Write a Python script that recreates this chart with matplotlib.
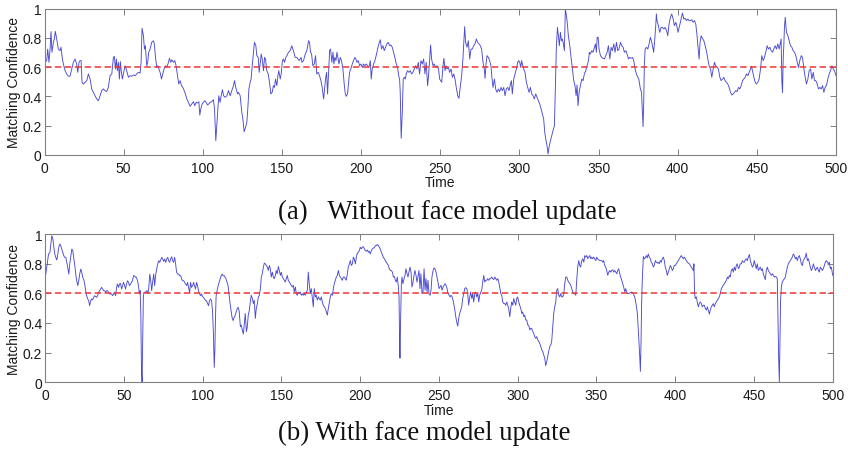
import matplotlib
matplotlib.use('Agg')
import matplotlib.pyplot as plt
from matplotlib.ticker import FuncFormatter

# (time, matching confidence) samples, panel (a)
samples_a = [
(0,.633),(1.4,.645),(2.0,.724),(2.8,.633),(3.5,.724),(4.1,.843),(4.7,.702),(5.6,.770),(6.2,.793),(6.8,.845),(7.7,.793),(8.7,.724),(9.8,.713),(10.4,.736),(11.3,.656),(11.9,.622),(13.0,.576),(14.0,.554),(15.1,.538),(16.1,.538),(17.2,.588),(18.2,.633),(19.3,.656),(20.3,.622),(21.0,.565),(21.8,.633),(22.4,.645),(23.1,.645),(23.7,.497),(24.5,.485),(25.6,.497),(26.7,.508),(27.7,.554),(28.8,.519),(29.8,.451),(30.9,.428),(31.9,.405),(33.0,.383),(34.0,.371),(35.1,.405),(36.1,.440),(37.2,.451),(38.2,.440),(39.3,.433),(40.3,.462),(41.4,.542),(42.5,.554),(43.5,.667),(44.1,.674),(44.8,.588),(45.4,.656),(46.0,.576),(46.7,.633),(47.3,.519),(47.9,.638),(48.6,.565),(49.2,.519),(49.8,.554),(50.9,.610),(51.9,.576),(53.0,.531),(54.0,.542),(55.1,.538),(56.2,.547),(57.2,.542),(58.3,.554),(59.3,.565),(60.4,.560),(61.0,.633),(61.6,.866),(62.5,.815),(63.1,.724),(63.7,.747),(64.6,.610),(65.2,.633),(65.8,.702),(66.7,.724),(67.7,.770),(68.8,.781),(69.4,.759),(70.1,.667),(70.9,.599),(71.5,.610),(72.2,.588),(73.0,.565),(73.9,.519),(74.7,.554),(75.5,.588),(76.4,.610),(77.2,.599),(78.3,.633),(78.9,.661),(79.8,.633),(80.4,.651),(81.5,.633),(82.3,.645),(83.1,.610),(84.0,.542),(84.8,.485),(85.7,.508),(86.5,.474),(87.4,.462),(88.2,.440),(89.0,.417),(89.9,.383),(90.9,.360),(92.0,.333),(93.0,.349),(94.1,.364),(94.9,.337),(95.8,.360),(96.6,.355),(97.5,.364),(98.1,.273),(98.7,.314),(99.6,.349),(100.4,.360),(101.3,.371),(102.1,.360),(102.9,.342),(103.8,.349),(104.6,.360),(105.7,.364),(106.7,.378),(107.4,.314),(107.8,.200),(108.2,.098),(108.8,.200),(109.5,.314),(110.1,.405),(110.9,.360),(111.6,.405),(112.4,.446),(113.1,.405),(114.1,.394),(115.2,.405),(116.2,.440),(117.3,.405),(118.3,.440),(119.4,.474),(120.0,.508),(120.8,.462),(121.9,.417),(122.5,.428),(123.6,.405),
(124.6,.292),(125.3,.246),(126.1,.159),(127.0,.189),(127.8,.223),(128.4,.314),(129.1,.451),(129.9,.497),(130.5,.519),(131.2,.610),(132.0,.702),(132.6,.770),(133.5,.747),(134.1,.679),(135.0,.667),(135.6,.565),(136.2,.622),(136.9,.690),(137.5,.656),(138.3,.576),(139.0,.667),(139.6,.656),(140.4,.576),(141.3,.554),(142.1,.497),(143.0,.417),(143.8,.428),(144.6,.474),(145.3,.462),(145.9,.519),(146.8,.474),(147.4,.542),(148.0,.576),(148.9,.519),(149.5,.554),(150.3,.645),(151.0,.656),(151.6,.633),(152.4,.667),(153.1,.679),(154.1,.702),(155.2,.713),(156.2,.747),(156.9,.724),(157.5,.702),(158.3,.667),(159.4,.667),(160.0,.656),(160.9,.645),(161.5,.656),(162.1,.667),(162.6,.633),(163.6,.645),(164.7,.690),(165.7,.713),(166.8,.781),(167.4,.770),(168.0,.702),(168.7,.690),(169.5,.610),(170.4,.622),(171.2,.679),(172.0,.554),(172.9,.565),(173.7,.542),(174.6,.508),(175.4,.462),(176.3,.383),(176.9,.451),(177.5,.519),(178.2,.565),(178.8,.417),(179.4,.554),(180.1,.713),(180.7,.724),(181.5,.633),(182.2,.702),(182.8,.622),(183.4,.667),(184.1,.645),(184.7,.702),(185.3,.667),(186.0,.622),(186.8,.667),(187.6,.645),(188.5,.588),(189.3,.485),(190.0,.417),(190.6,.401),(191.4,.417),(192.1,.497),(192.7,.565),(193.5,.588),(194.4,.622),(195.2,.645),(196.1,.667),(196.7,.656),(197.3,.633),(198.2,.645),(199.0,.610),(199.9,.622),(200.7,.599),(201.5,.622),(202.4,.610),(203.2,.622),(204.1,.610),(204.9,.599),(205.8,.645),(206.4,.519),(207.0,.588),(207.9,.622),(208.7,.645),(209.5,.679),(210.4,.724),(211.2,.759),(212.1,.788),(212.9,.724),(213.8,.747),(214.6,.713),(215.4,.736),(216.3,.759),(217.1,.770),(218.0,.747),(218.8,.752),(219.7,.736),(220.5,.702),(221.3,.667),(222.2,.622),(223.0,.599),(223.7,.542),(224.3,.519),(224.7,.428),(225.1,.200),(225.3,.114),(226.0,.292),(226.6,.519),(227.3,.531),(227.9,.519),(228.5,.554),(229.3,.576),(230.2,.565),(231.0,.576),(231.9,.554),(232.7,.565),(233.6,.588),(234.4,.610),(235.3,.588),(236.1,.633),(236.9,.554),(237.8,.645),(238.6,.622),(239.5,.656),(240.3,.554),(241.1,.633),(242.0,.474),(242.6,.542),(243.3,.656),(243.9,.752),(244.5,.656),(245.4,.610),(246.2,.622),(247.0,.599),(247.9,.610),(248.9,.588),(249.6,.519),
(250.9,.497),(251.7,.610),(252.3,.661),(253.0,.576),(253.6,.610),(254.2,.588),(255.1,.599),(255.9,.565),(256.8,.588),(257.6,.531),(258.5,.554),(259.3,.519),(260.1,.462),(261.0,.405),(261.8,.387),(262.7,.474),(263.5,.542),(264.3,.656),(265.0,.793),(265.4,.877),(266.0,.770),(266.9,.736),(267.7,.781),(268.6,.656),(269.4,.724),(270.2,.724),(271.1,.747),(271.9,.759),(272.8,.793),(273.6,.770),(274.5,.759),(275.3,.747),(276.1,.724),(277.0,.633),(277.8,.588),(278.3,.524),(278.9,.622),(279.5,.679),(280.4,.667),(281.2,.645),(282.0,.610),(282.7,.519),(283.3,.462),(284.2,.519),(285.0,.451),(285.8,.428),(286.7,.451),(287.5,.433),(288.4,.462),(289.2,.440),(290.1,.462),(290.9,.405),(291.7,.451),(292.6,.462),(293.4,.440),(294.3,.485),(294.9,.508),(295.5,.417),(296.4,.519),(297.2,.554),(298.1,.588),(298.9,.633),(299.5,.645),(300.2,.633),(300.8,.599),(301.4,.645),(302.1,.610),(302.7,.588),(303.5,.565),(304.4,.497),(305.2,.462),(306.1,.428),(306.9,.462),(307.8,.417),(308.6,.405),(309.4,.383),(310.3,.417),(311.1,.394),(312.0,.371),(312.8,.349),(313.7,.314),(314.5,.280),(315.3,.246),(316.0,.155),(316.6,.109),(317.4,.064),(318.1,.007),(318.7,.052),(319.6,.098),(320.4,.132),(321.2,.166),(322.1,.200),(322.7,.451),(323.3,.724),(324.0,.872),(324.6,.815),(325.2,.747),(325.9,.838),(326.5,.781),(327.1,.793),(327.8,.759),(328.4,.713),(329.0,.998),(329.7,.952),(330.3,.895),(330.9,.815),(331.8,.747),(332.6,.667),(333.5,.588),(334.3,.508),(335.1,.474),(335.8,.405),(336.4,.478),(337.0,.337),(337.7,.428),(338.5,.474),(339.4,.519),(340.2,.508),(341.0,.554),(341.9,.576),(342.7,.610),(343.6,.645),(344.2,.702),(344.8,.690),(345.7,.713),(346.5,.702),(347.4,.736),(348.0,.759),(348.6,.702),(349.1,.804),(349.7,.804),(350.3,.724),(351.2,.679),(352.0,.667),(352.8,.661),(353.7,.656),(354.5,.679),(355.4,.702),(356.2,.747),(357.1,.656),(357.9,.736),(358.7,.713),(359.6,.759),(360.4,.702),(361.3,.770),(362.1,.713),(362.9,.724),(363.8,.770),(364.6,.747),(365.5,.736),(366.3,.702),(367.2,.713),(368.0,.690),(368.9,.656),(369.7,.667),
(370.5,.661),(371.4,.667),(372.2,.645),(373.3,.576),(374.3,.542),(375.4,.519),(376.4,.451),(377.1,.428),(377.7,.292),(378.1,.194),(378.5,.360),(378.9,.610),(379.4,.724),(380.2,.736),(381.1,.724),(381.9,.759),(382.7,.804),(383.6,.770),(384.2,.736),(384.8,.702),(385.5,.793),(386.1,.884),(386.5,.964),(386.9,.918),(387.8,.884),(388.6,.838),(389.5,.872),(390.3,.872),(391.2,.861),(392.0,.872),(392.9,.850),(393.7,.815),(394.5,.895),(395.4,.941),(396.2,.964),(397.1,.929),(397.9,.884),(398.8,.907),(399.6,.872),(400.2,.838),(400.9,.872),(401.7,.907),(402.3,.941),(403.0,.970),(403.8,.929),(404.7,.934),(405.5,.918),(406.3,.929),(407.2,.918),(408.0,.918),(408.9,.925),(409.7,.907),(410.6,.918),(411.4,.895),(412.2,.815),(412.9,.724),(413.5,.656),(414.1,.770),(414.8,.815),(415.6,.797),(416.5,.781),(417.3,.747),(418.1,.713),(419.0,.656),(419.8,.610),(420.7,.588),(421.5,.531),(422.4,.588),(423.2,.633),(424.0,.610),(424.9,.599),(425.7,.588),(426.6,.531),(427.4,.508),(428.3,.519),(429.1,.531),(429.9,.508),(430.8,.497),(431.6,.485),(432.5,.462),(433.3,.428),(434.2,.410),(435.0,.417),(435.8,.428),(436.7,.440),(437.5,.433),(438.4,.462),(439.2,.451),(440.1,.474),(440.9,.508),(441.7,.519),(442.6,.531),(443.4,.554),(444.3,.542),(445.1,.565),(446.0,.588),(446.6,.606),(447.2,.576),(448.1,.531),(448.9,.497),(449.7,.485),(450.6,.497),(451.4,.519),(452.3,.588),(453.1,.679),(454.0,.645),(454.8,.667),(455.6,.702),(456.5,.747),(457.3,.724),(458.2,.736),(459.0,.713),(459.9,.702),(460.7,.724),(461.5,.747),(462.4,.724),(463.2,.759),(464.1,.724),(464.9,.770),(465.3,.793),(465.8,.497),(466.2,.428),(466.6,.656),(467.0,.747),(467.4,.872),(467.9,.941),(468.3,.884),(468.7,.838),(469.6,.815),(470.4,.781),(471.2,.747),(472.1,.736),(472.9,.713),(473.8,.702),(474.6,.679),(475.5,.633),(476.3,.599),(477.1,.645),(478.0,.679),(478.8,.667),(479.7,.588),(480.5,.531),(481.3,.485),(482.2,.519),(483.0,.576),(483.9,.588),(484.7,.519),(485.6,.565),(486.4,.508),(487.2,.508),(488.1,.485),(488.9,.451),(489.8,.462),(490.6,.451),(491.5,.474),(492.3,.428),(493.1,.462),(494.0,.478),(494.8,.519),(495.7,.554),(496.5,.576),(497.4,.610),(498.2,.588),(499.0,.576),(500.0,.542),
]

# (time, matching confidence) samples, panel (b)
samples_b = [
(0,.697),(1.4,.798),(2.2,.865),(3.1,.876),(3.7,.933),(4.3,.989),(5.0,.966),(5.6,.910),(6.2,.865),(6.8,.843),(7.5,.825),(8.1,.865),(8.7,.910),(9.4,.933),(10.0,.921),(10.6,.899),(11.3,.876),(11.9,.854),(12.5,.843),(13.2,.843),(13.8,.809),(14.4,.775),(15.1,.730),(15.7,.798),(16.3,.843),(17.0,.899),(17.6,.888),(18.2,.843),(18.9,.787),(19.5,.730),(20.1,.685),(20.8,.652),(21.4,.685),(22.0,.730),(22.7,.764),(23.3,.742),(23.9,.708),(24.5,.697),(25.2,.663),(25.8,.618),(26.4,.584),(27.1,.562),(27.7,.551),(28.3,.517),(29.0,.551),(29.6,.562),(30.2,.555),(30.9,.573),(31.5,.584),(32.1,.578),(32.8,.573),(33.4,.584),(34.0,.607),(34.7,.618),(35.3,.629),(35.9,.640),(36.6,.629),(37.2,.618),(37.8,.618),(38.5,.607),(39.1,.618),(39.7,.618),(40.3,.607),(41.0,.596),(41.6,.596),(42.2,.596),(42.9,.584),(43.5,.596),(44.1,.607),(44.8,.584),(45.4,.640),(46.0,.663),(46.7,.640),(47.3,.663),(47.9,.667),(48.6,.629),(49.2,.652),(49.8,.674),(50.5,.652),(51.1,.629),(51.7,.663),(52.4,.685),(53.0,.674),(53.6,.652),(54.3,.663),(54.9,.674),(55.5,.685),(56.2,.719),(56.8,.719),(57.4,.708),(58.0,.708),(58.7,.685),(59.3,.652),(59.9,.596),(60.4,.618),(60.8,.461),(61.2,.101),(61.6,0.0),(62.0,.281),(62.4,.573),(62.8,.607),(63.7,.607),(64.6,.618),(65.2,.600),(65.8,.629),(66.5,.730),(67.1,.685),(67.7,.618),(68.4,.685),(69.0,.730),(69.6,.652),(70.3,.730),(70.9,.764),(71.5,.798),(72.2,.820),(72.8,.809),(73.4,.825),(74.1,.843),(74.7,.831),(75.3,.816),(76.0,.831),(76.6,.809),(77.2,.831),(77.9,.843),(78.5,.820),(79.1,.809),(79.7,.831),(80.4,.847),(81.0,.820),(81.6,.809),(82.3,.843),(82.9,.798),(83.5,.742),(84.2,.730),(84.8,.730),(85.4,.719),(86.1,.719),(86.7,.697),(87.3,.685),(88.0,.685),(88.6,.674),(89.2,.663),(89.9,.652),(90.5,.674),(91.1,.640),(91.8,.607),(92.4,.674),(93.0,.640),(93.7,.652),(94.3,.674),(94.9,.652),(95.5,.629),(96.2,.674),(96.8,.652),(97.4,.618),(98.1,.596),(98.7,.584),(99.3,.596),(100.0,.578),(100.6,.573),(101.2,.562),(101.9,.551),(102.5,.551),(103.1,.533),(103.8,.517),(104.4,.551),(105.0,.562),(105.7,.551),(106.3,.483),(106.9,.326),(107.4,.101),(107.8,.213),(108.2,.438),(108.6,.584),(109.2,.618),(109.9,.652),(110.5,.674),(111.1,.697),(111.8,.719),(112.4,.730),(113.0,.719),(113.7,.719),(114.3,.708),(114.9,.697),(115.6,.674),(116.2,.652),(116.8,.596),(117.5,.528),(118.1,.483),(118.7,.438),(119.4,.416),(120.0,.438),(120.6,.449),(121.3,.472),(121.9,.494),(122.5,.506),(123.2,.483),
(124.0,.375),(124.6,.386),(125.2,.353),(125.9,.326),(126.5,.397),(127.1,.464),(127.8,.342),(128.4,.375),(129.0,.453),(129.7,.487),(130.3,.542),(130.9,.587),(131.6,.565),(132.2,.531),(132.8,.554),(133.5,.431),(134.1,.498),(134.8,.531),(135.4,.576),(136.0,.587),(136.7,.632),(137.3,.710),(137.9,.732),(138.6,.777),(139.2,.804),(139.8,.799),(140.5,.788),(141.1,.777),(141.7,.754),(142.4,.788),(143.0,.766),(143.6,.710),(144.3,.743),(144.9,.710),(145.5,.699),(146.2,.721),(146.8,.754),(147.4,.732),(148.1,.781),(148.7,.754),(149.4,.721),(150.0,.743),(150.6,.710),(151.3,.699),(151.9,.688),(152.5,.676),(153.2,.699),(153.8,.721),(154.4,.688),(155.1,.676),(155.7,.665),(156.3,.654),(157.0,.643),(157.6,.654),(158.2,.609),(158.9,.643),(159.5,.598),(160.1,.587),(160.8,.609),(161.4,.598),(162.0,.609),(162.7,.587),(163.3,.598),(163.9,.587),(164.6,.598),(165.2,.587),(165.9,.609),(166.5,.621),(167.1,.743),(167.8,.654),(168.4,.598),(169.0,.632),(169.7,.565),(170.3,.509),(170.9,.632),(171.6,.576),(172.2,.587),(172.8,.554),(173.5,.576),(174.1,.565),(174.7,.554),(175.4,.576),(176.0,.542),(176.6,.520),(177.3,.509),(177.9,.498),(178.6,.475),(179.2,.453),(179.8,.498),(180.5,.542),(181.1,.576),(181.7,.598),(182.4,.587),(183.0,.632),(183.6,.665),(184.3,.688),(184.9,.710),(185.5,.721),(186.2,.754),(186.8,.721),(187.4,.710),(188.1,.699),(188.7,.688),(189.3,.710),(190.0,.710),(190.6,.699),(191.2,.688),(191.9,.732),(192.5,.777),(193.2,.799),(193.8,.821),(194.4,.788),(195.1,.799),(195.7,.844),(196.3,.833),(197.0,.799),(197.6,.844),(198.2,.871),(198.9,.877),(199.5,.888),(200.1,.911),(200.8,.900),(201.4,.911),(202.0,.915),(202.7,.900),(203.3,.888),(203.9,.884),(204.6,.893),(205.2,.877),(205.8,.884),(206.5,.866),(207.1,.888),(207.8,.900),(208.4,.906),(209.0,.906),(209.7,.922),(210.3,.922),(210.9,.929),(211.6,.922),(212.2,.911),(212.8,.900),(213.5,.877),(214.1,.862),(214.7,.844),(215.4,.833),(216.0,.821),(216.6,.810),(217.3,.799),(217.9,.788),(218.5,.766),(219.2,.754),(219.8,.754),(220.5,.743),(221.1,.710),(221.7,.714),(222.4,.688),(223.0,.676),(223.6,.710),(224.3,.643),(224.7,.576),(225.1,.263),(225.3,.163),(225.7,.420),(226.2,.665),(226.6,.710),(227.2,.665),(227.9,.699),(228.5,.721),(229.1,.766),(229.8,.732),(230.4,.710),(231.0,.743),(231.7,.777),(232.3,.743),(232.9,.643),(233.6,.676),(234.2,.721),(234.8,.754),(235.5,.721),(236.1,.676),(236.7,.710),(237.4,.754),(238.0,.632),(238.6,.732),(239.3,.598),(239.9,.609),(240.6,.766),(241.2,.621),(241.8,.699),(242.5,.609),(243.1,.688),(243.7,.598),(244.4,.587),(245.0,.621),(245.6,.710),(246.3,.754),(246.9,.772),(247.5,.766),(248.2,.743),(248.8,.710),(249.4,.676),(250.1,.632),
(251.4,.654),(252.0,.621),(252.7,.643),(253.3,.654),(253.9,.665),(254.6,.654),(255.2,.632),(255.8,.598),(256.5,.587),(257.1,.576),(257.7,.587),(258.4,.576),(259.0,.554),(259.6,.520),(260.3,.475),(260.9,.431),(261.5,.397),(262.0,.379),(262.6,.431),(263.2,.464),(263.9,.487),(264.5,.509),(265.1,.565),(265.8,.598),(266.4,.632),(267.0,.638),(267.7,.632),(268.3,.598),(268.9,.520),(269.6,.576),(270.2,.609),(270.9,.565),(271.5,.598),(272.1,.542),(272.8,.598),(273.4,.609),(274.0,.576),(274.7,.598),(275.3,.542),(275.9,.587),(276.6,.609),(277.2,.621),(277.8,.676),(278.5,.721),(279.1,.676),(279.7,.688),(280.4,.688),(281.0,.699),(281.6,.688),(282.3,.699),(282.9,.699),(283.5,.710),(284.2,.699),(284.8,.692),(285.5,.710),(286.1,.699),(286.7,.688),(287.4,.699),(288.0,.676),(288.6,.643),(289.3,.598),(289.9,.587),(290.5,.542),(291.2,.531),(291.8,.531),(292.4,.520),(293.1,.542),(293.7,.520),(294.3,.498),(295.0,.442),(295.6,.498),(296.2,.542),(296.9,.520),(297.5,.565),(298.1,.542),(298.8,.520),(299.4,.565),(300.0,.576),(300.7,.542),(301.3,.520),(302.0,.498),(302.6,.464),(303.2,.475),(303.9,.442),(304.5,.453),(305.1,.420),(305.8,.420),(306.4,.386),(307.0,.386),(307.7,.353),(308.3,.364),(308.9,.364),(309.6,.342),(310.2,.330),(310.8,.308),(311.5,.297),(312.1,.308),(312.7,.286),(313.4,.275),(314.0,.263),(314.7,.241),(315.3,.219),(315.9,.208),(316.6,.185),(317.2,.163),(317.8,.112),(318.5,.141),(319.1,.174),(319.7,.208),(320.4,.241),(321.0,.252),(321.6,.275),(322.3,.375),(322.9,.464),(323.5,.509),(324.2,.542),(324.8,.621),(325.4,.632),(326.1,.587),(326.7,.576),(327.3,.598),(328.0,.576),(328.6,.576),(329.3,.598),(329.9,.665),(330.5,.710),(331.2,.710),(331.8,.688),(332.4,.676),(333.1,.665),(333.7,.654),(334.3,.632),(335.0,.609),(335.6,.598),(336.2,.598),(336.9,.587),(337.5,.688),(338.1,.777),(338.8,.821),(339.4,.788),(340.0,.777),(340.7,.821),(341.3,.833),(342.0,.810),(342.6,.855),(343.2,.844),(343.9,.855),(344.5,.833),(345.1,.844),(345.8,.855),(346.4,.833),(347.0,.844),(347.7,.833),(348.3,.844),(348.9,.833),(349.6,.821),(350.2,.844),(350.8,.833),(351.5,.826),(352.1,.821),(352.7,.821),(353.4,.821),(354.0,.810),(354.6,.821),(355.3,.788),(355.9,.777),(356.5,.754),(357.2,.721),(357.8,.743),(358.5,.754),(359.1,.743),(359.7,.754),(360.4,.759),(361.0,.743),(361.6,.754),(362.3,.743),(362.9,.732),(363.5,.754),(364.2,.766),(364.8,.732),(365.4,.710),(366.1,.688),(366.7,.665),(367.3,.643),(368.0,.609),(368.6,.632),(369.2,.609),(369.9,.598),(370.5,.598),(371.1,.603),
(372.4,.609),(373.4,.598),(374.3,.576),(375.1,.531),(376.0,.464),(376.8,.308),(377.4,.196),(377.9,.074),(378.3,.263),(378.7,.531),(379.1,.688),(379.8,.848),(380.4,.833),(381.0,.839),(381.7,.855),(382.3,.839),(382.9,.866),(383.6,.844),(384.2,.833),(384.8,.810),(385.5,.799),(386.1,.777),(386.7,.788),(387.4,.821),(388.0,.810),(388.7,.804),(389.3,.810),(389.9,.799),(390.6,.821),(391.2,.810),(391.8,.833),(392.5,.844),(393.1,.821),(393.7,.777),(394.4,.754),(395.0,.721),(395.6,.743),(396.3,.766),(396.9,.788),(397.5,.777),(398.2,.754),(398.8,.766),(399.4,.788),(400.1,.788),(400.7,.799),(401.3,.810),(402.0,.821),(402.6,.833),(403.3,.844),(403.9,.855),(404.5,.844),(405.2,.833),(405.8,.844),(406.4,.833),(407.1,.821),(407.7,.810),(408.3,.804),(409.0,.799),(409.6,.788),(410.2,.777),(410.9,.766),(411.5,.754),(411.9,.799),(412.3,.598),(412.8,.565),(413.4,.576),(414.0,.542),(414.7,.509),(415.3,.531),(415.9,.542),(416.6,.531),(417.2,.509),(417.9,.520),(418.5,.520),(419.1,.498),(419.8,.487),(420.4,.509),(421.0,.487),(421.7,.460),(422.3,.487),(422.9,.509),(423.6,.520),(424.2,.531),(424.8,.509),(425.5,.531),(426.1,.542),(426.7,.554),(427.4,.565),(428.0,.576),(428.6,.598),(429.3,.632),(429.9,.643),(430.5,.654),(431.2,.665),(431.8,.676),(432.5,.688),(433.1,.710),(433.7,.699),(434.4,.721),(435.0,.710),(435.6,.754),(436.3,.766),(436.9,.743),(437.5,.777),(438.2,.754),(438.8,.788),(439.4,.799),(440.1,.766),(440.7,.777),(441.3,.799),(442.0,.799),(442.6,.821),(443.2,.810),(443.9,.810),(444.5,.826),(445.1,.833),(445.8,.821),(446.4,.844),(447.1,.862),(447.7,.821),(448.3,.799),(449.0,.777),(449.6,.788),(450.2,.821),(450.9,.788),(451.5,.766),(452.1,.799),(452.8,.754),(453.4,.766),(454.0,.777),(454.7,.754),(455.3,.766),(455.9,.732),(456.6,.710),(457.2,.692),(457.8,.754),(458.5,.777),(459.1,.754),(459.7,.743),(460.4,.732),(461.0,.721),(461.7,.732),(462.3,.721),(462.9,.710),(463.6,.714),(464.2,.710),(464.8,.699),(465.2,.464),(465.7,.152),(466.1,0.0),(466.5,.263),(466.9,.554),(467.4,.643),(468.0,.676),(468.6,.688),(469.3,.699),(469.9,.710),(470.5,.743),(471.2,.777),(471.8,.799),(472.4,.810),(473.1,.821),(473.7,.833),(474.3,.844),(475.0,.866),(475.6,.855),(476.3,.833),(476.9,.844),(477.5,.821),(478.2,.844),(478.8,.855),(479.4,.833),(480.1,.799),(480.7,.788),(481.3,.821),(482.0,.833),(482.6,.844),(483.2,.871),(483.9,.821),(484.5,.833),(485.1,.810),(485.8,.777),(486.4,.754),(487.0,.766),(487.7,.799),(488.3,.777),(489.0,.754),(489.6,.766),(490.2,.777),(490.9,.754),(491.5,.743),(492.1,.777),(492.8,.766),(493.4,.754),(494.0,.766),(494.7,.788),(495.3,.810),(495.9,.821),(496.6,.810),(497.2,.799),(497.8,.810),(498.5,.766),(499.1,.777),(500.0,.721),
]

threshold = 0.6
x_ticks = [0, 50, 100, 150, 200, 250, 300, 350, 400, 450, 500]
y_ticks = [0, 0.2, 0.4, 0.6, 0.8, 1]
y_label = 'Matching Confidence'
x_label = 'Time'
caption_a = '(a)   Without face model update'
caption_b = '(b) With face model update'

SANS = ['Liberation Sans', 'DejaVu Sans']
SERIF = ['Liberation Serif', 'DejaVu Serif']

fig = plt.figure(figsize=(8.48, 4.52), dpi=100)
ax_a = fig.add_axes([0.0525, 0.6549, 0.9334, 0.3237])
ax_b = fig.add_axes([0.0531, 0.152, 0.9289, 0.328])


def draw(ax, samples):
    t = [p[0] for p in samples]
    v = [p[1] for p in samples]
    ax.plot(t, v, color='#4a4ad2', lw=0.65)
    ax.axhline(threshold, color='#f03434', lw=1.1, dashes=(4.2, 2.3))
    ax.set_xlim(0, 500)
    ax.set_ylim(0, 1)
    ax.set_xticks(x_ticks)
    ax.set_yticks(y_ticks)
    ax.yaxis.set_major_formatter(FuncFormatter(lambda val, pos: f'{val:g}'))
    ax.xaxis.set_major_formatter(FuncFormatter(lambda val, pos: f'{val:g}'))
    ax.tick_params(axis='both', direction='in', top=True, right=True,
                   length=4, width=0.7, color='#808080', labelcolor='#1a1a1a',
                   labelsize=10)
    ax.tick_params(axis='x', pad=4)
    ax.tick_params(axis='y', pad=2)
    for lab in ax.get_xticklabels() + ax.get_yticklabels():
        lab.set_family(SANS)
    for s in ax.spines.values():
        s.set_color('#808080')
        s.set_linewidth(0.8)
    ax.set_ylabel(y_label, family=SANS, fontsize=10, color='#1a1a1a')
    ax.set_xlabel(x_label, family=SANS, fontsize=10, color='#1a1a1a')
    ax.yaxis.set_label_coords(-0.030, 0.5)
    ax.xaxis.set_label_coords(0.5, -0.14)


draw(ax_a, samples_a)
draw(ax_b, samples_b)

fig.text(0.528, 0.531, caption_a, family=SERIF, fontsize=19.3, ha='center', va='center', color='#111111')
fig.text(0.5006, 0.040, caption_b, family=SERIF, fontsize=19.3, ha='center', va='center', color='#111111')

fig.savefig('out.png', dpi=100)
